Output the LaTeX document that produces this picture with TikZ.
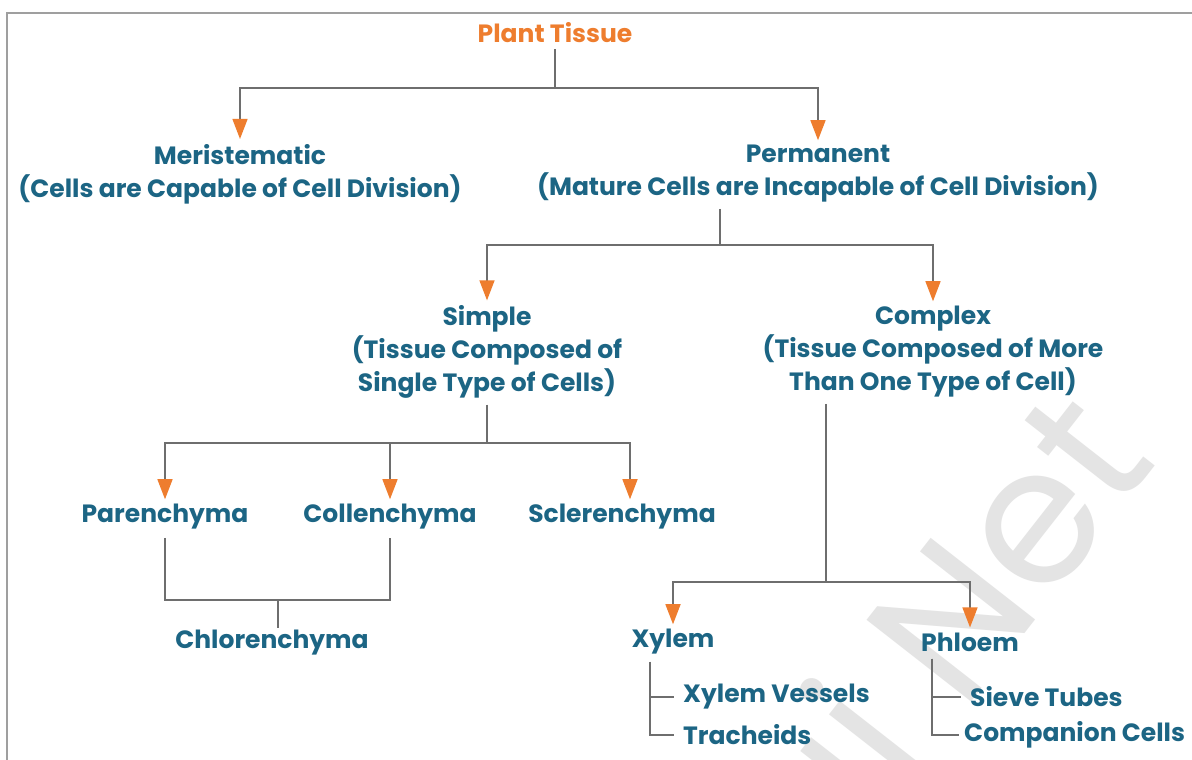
\documentclass[tikz,border=0pt]{standalone}
\usepackage{fontspec}
\setmainfont{Poppins}
\usetikzlibrary{arrows.meta}
\definecolor{txt}{HTML}{1C6584}
\definecolor{org}{HTML}{EE7D2E}
\definecolor{ln}{HTML}{6E6E6E}
\definecolor{wm}{HTML}{E4E4E4}
\begin{document}
\begin{tikzpicture}[x=1pt,y=-1pt,
  lbl/.style={text=txt, font=\fontsize{25}{33}\selectfont\bfseries, align=center, inner sep=0pt},
  conn/.style={draw=ln, line width=1.4pt},
  arr/.style={conn, shorten >=5pt, -{Triangle[length=20pt,width=15pt,color=org]}},
  sub/.style={conn, shorten >=9pt}
]
\useasboundingbox (0,0) rectangle (1192,760);
\fill[white] (0,0) rectangle (1192,760);
\draw[gray!75, line width=2pt] (7,13) rectangle (1210,780);
% watermark
\node[rotate=52, text=wm, font=\fontsize{190}{190}\selectfont] (wmk) at (935,632) {ai Net};

\node[lbl, text=org] (pt) at (555,33) {Plant Tissue};
\node[lbl] (mer) at (240,174) {Meristematic\\(Cells are Capable of Cell Division)};
\node[lbl] (per) at (818,174) {Permanent\\(Mature Cells are Incapable of Cell Division)};
\node[lbl] (sim) at (487,352) {Simple\\(Tissue Composed of\\Single Type of Cells)};
\node[lbl] (com) at (933,352) {Complex\\(Tissue Composed of More\\Than One Type of Cell)};
\node[lbl] (par) at (165,517) {Parenchyma};
\node[lbl] (col) at (390,517) {Collenchyma};
\node[lbl] (scl) at (622,517) {Sclerenchyma};
\node[lbl] (chl) at (272,643) {Chlorenchyma};
\node[lbl] (xyl) at (673,642) {Xylem};
\node[lbl] (phl) at (970,642) {Phloem};
\node[lbl, anchor=west] (xv) at (683,697) {Xylem Vessels};
\node[lbl, anchor=west] (tr) at (683,735) {Tracheids};
\node[lbl, anchor=west] (st) at (970,697) {Sieve Tubes};
\node[lbl, anchor=west] (cc) at (964,735) {Companion Cells};

% level 1
\coordinate (j1) at (555,88);
\draw[conn] ([yshift=-6pt]pt.south) -- (j1);
\draw[arr] (j1) -| (mer);
\draw[arr] (j1) -| (per);
% level 2
\coordinate (j2) at (720,245);
\draw[conn] ([yshift=-6pt]per.south -| j2) -- (j2);
\draw[arr] (j2) -| (sim);
\draw[arr] (j2) -| (com);
% simple
\coordinate (j3) at (487,443);
\draw[conn] ([yshift=-6pt]sim.south) -- (j3);
\draw[arr] (j3) -| (par);
\draw[arr] (j3) -| (col);
\draw[arr] (j3) -| ([xshift=8pt]scl.north);
% chlorenchyma
\coordinate (j5) at (278,600);
\draw[conn] ([yshift=-8pt]par.south) |- (j5) -| ([yshift=-8pt]col.south);
\draw[conn] (j5) -- ([yshift=2pt]chl.north -| j5);
% complex
\coordinate (j6) at (826,582);
\draw[conn] ([yshift=-6pt]com.south -| j6) -- (j6);
\draw[arr] (j6) -| (xyl);
\draw[arr] (j6) -| (phl);
% xylem / phloem lists
\coordinate (xa) at ([xshift=-23pt,yshift=-7pt]xyl.south);
\draw[sub] (xa) |- (xv.west);
\draw[sub] (xa) |- (tr.west);
\coordinate (pa) at ([xshift=-38pt,yshift=-7pt]phl.south);
\draw[sub] (pa) |- (st.west);
\draw[sub] (pa) |- ([xshift=4pt]cc.west);
\end{tikzpicture}
\end{document}
